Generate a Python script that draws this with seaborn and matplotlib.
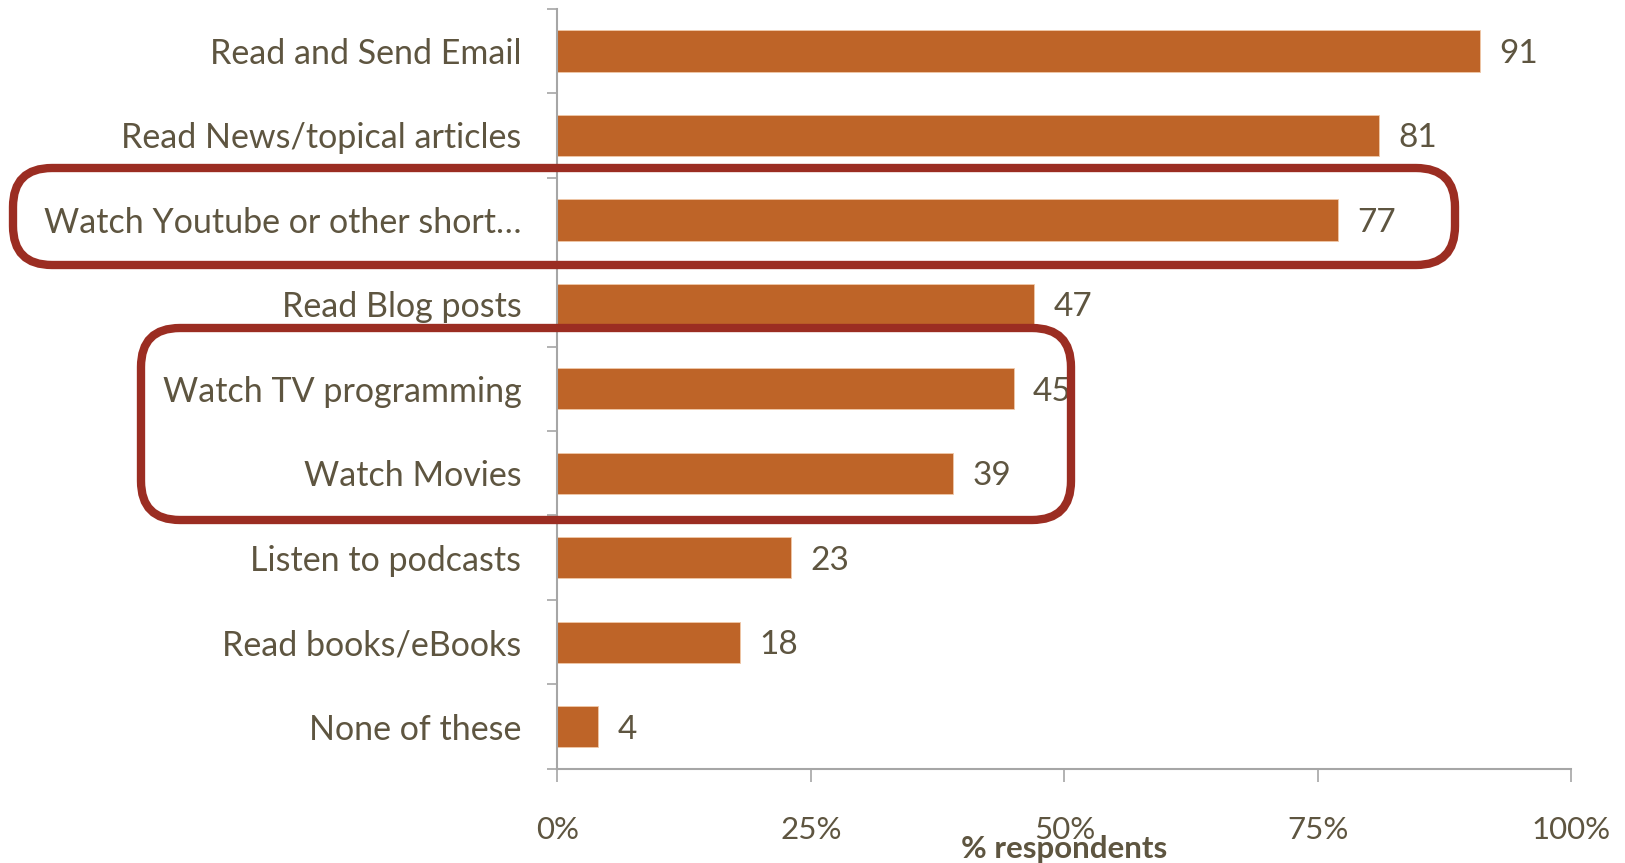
import matplotlib
matplotlib.use("Agg")
import matplotlib.pyplot as plt
import seaborn as sns
import pandas as pd
import numpy as np
from matplotlib.patches import FancyBboxPatch

categories = ["Read and Send Email", "Read News/topical articles", "Watch Youtube or other short…",
              "Read Blog posts", "Watch TV programming", "Watch Movies", "Listen to podcasts",
              "Read books/eBooks", "None of these"]
values = [91, 81, 77, 47, 45, 39, 23, 18, 4]
xticks = [0, 25, 50, 75, 100]
xtick_labels = ["0%", "25%", "50%", "75%", "100%"]

sns.set_theme(style="white")
plt.rcParams['font.family'] = ['Lato', 'DejaVu Sans']

TXT = "#5e5540"
BAR = "#be6428"
BOX = "#9b2d22"
AX = "#a6a6a6"

fig = plt.figure(figsize=(16.25, 8.63), dpi=100)
ax = fig.add_axes([0.343, 0.109, 0.624, 0.881])

df = pd.DataFrame({"cat": categories, "val": values})
sns.barplot(data=df, y="cat", x="val", color=BAR, width=0.49, ax=ax, saturation=1,
            edgecolor="#f0c8a8", linewidth=0.6)

ax.set_xlim(0, 100)
ax.set_ylim(len(categories) - 0.5, -0.5)
ax.set_xticks(xticks)
ax.set_xticklabels(xtick_labels, fontsize=22.5, color=TXT)
ax.tick_params(axis="x", length=9, width=1.2, color=AX, pad=25, direction="out", bottom=True)
ax.tick_params(axis="y", which="major", length=0, pad=26, labelsize=24.5, labelcolor=TXT)
ax.set_yticks(np.arange(-0.5, len(categories) + 0.5, 1), minor=True)
ax.tick_params(axis="y", which="minor", length=7.5, width=1.2, color=AX, left=True)
ax.set_ylabel("")
ax.set_xlabel("% respondents", fontsize=22.5, fontweight="bold", color=TXT)
ax.xaxis.set_label_coords(0.5, -0.087)

for s in ["top", "right"]:
    ax.spines[s].set_visible(False)
for s in ["left", "bottom"]:
    ax.spines[s].set_color(AX)
    ax.spines[s].set_linewidth(1.5)

for c in ax.containers:
    texts = ax.bar_label(c, labels=[str(v) for v in values], padding=14, fontsize=24, color=TXT)
    for t in texts:
        t.set_verticalalignment("center_baseline")

# highlight boxes (figure pixel coordinates)
W, H = 1625, 863
def box(x0, y0, x1, y1):
    p = FancyBboxPatch((x0 / W, 1 - y1 / H), (x1 - x0) / W, (y1 - y0) / H,
                       boxstyle="round,pad=0,rounding_size=0.024", transform=fig.transFigure,
                       fill=False, edgecolor=BOX, linewidth=6, mutation_aspect=W / H)
    fig.add_artist(p)

box(13, 168, 1455, 265)
box(141, 328, 1071, 520)

fig.savefig("out.png", dpi=100)
